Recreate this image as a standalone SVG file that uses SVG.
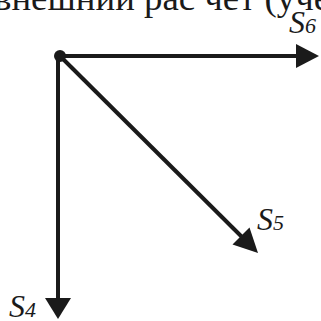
<svg xmlns="http://www.w3.org/2000/svg" width="321" height="321" viewBox="0 0 321 321">
<style>
.ln{stroke:#1a1a1a;stroke-width:4;fill:none}
.ah{fill:#1a1a1a}
.lb{font-family:"Liberation Serif",serif;font-style:italic;fill:#1a1a1a;font-size:32px}
.sub{font-size:22px}
.hd{font-family:"Liberation Serif",serif;fill:#1a1a1a;font-size:36px}
</style>
<text class="hd" x="-6" y="10" textLength="336" lengthAdjust="spacingAndGlyphs">внешний рас чет (уче</text>
<g id="connectors">
<line class="ln" x1="60" y1="56" x2="300" y2="56"/>
<polygon class="ah" points="319,56 296,44 296,68"/>
<line class="ln" x1="58" y1="56" x2="58" y2="302"/>
<polygon class="ah" points="58,319 45,298 71,298"/>
<line class="ln" x1="60" y1="56" x2="244" y2="239"/>
<polygon class="ah" points="258,253 249.5,227.5 232.5,244.5"/>
</g>
<g id="origin"><circle cx="60" cy="56" r="6" fill="#1a1a1a"/></g>
<g id="S6"><text class="lb" x="289" y="33">S<tspan class="sub">6</tspan></text></g>
<g id="S5"><text class="lb" x="257" y="230">S<tspan class="sub">5</tspan></text></g>
<g id="S4"><text class="lb" x="9" y="317">S<tspan class="sub">4</tspan></text></g>
</svg>
